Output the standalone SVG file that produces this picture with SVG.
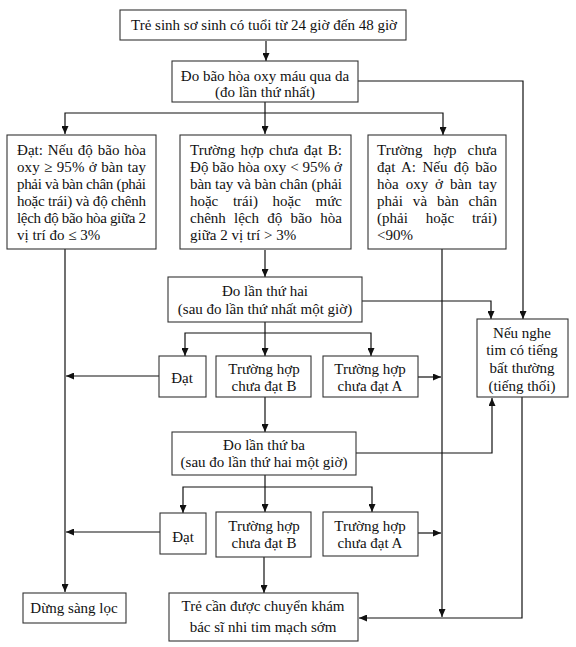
<svg xmlns="http://www.w3.org/2000/svg" width="576" height="647" viewBox="0 0 576 647">
<style>
.box{fill:#fff;stroke:#333;stroke-width:1.1}
.ln{fill:none;stroke:#111;stroke-width:1.2;marker-end:url(#ah)}
text{font-family:"Liberation Serif","Times New Roman",serif;font-size:15px;fill:#111}
.c{text-anchor:middle}
</style>
<defs>
<marker id="ah" markerUnits="userSpaceOnUse" markerWidth="8" markerHeight="7" refX="8" refY="3.5" orient="auto">
<path d="M0,0 L8,3.5 L0,7 z" fill="#111"/>
</marker>
</defs>
<rect width="576" height="647" fill="#fff"/>
<g id="connectors">
<path class="ln" d="M266,41 V61"/>
<path class="ln" d="M358,81 H523 V319"/>
<path class="ln" d="M265,102 V134"/>
<path class="ln" d="M265,113 H65 V134"/>
<path class="ln" d="M265,113 H443 V135"/>
<path class="ln" d="M65,249 V592"/>
<path class="ln" d="M265,250 V277"/>
<path class="ln" d="M362,301 H491 V319"/>
<path class="ln" d="M265,322 V356"/>
<path class="ln" d="M265,333 H185 V356"/>
<path class="ln" d="M265,333 H371 V356"/>
<path class="ln" d="M159,376 H66"/>
<path class="ln" d="M418,377 H441"/>
<path class="ln" d="M442,249 V617"/>
<path class="ln" d="M265,397 V432"/>
<path class="ln" d="M356,453 H492 V398"/>
<path class="ln" d="M522,397 V618 H359"/>
<path class="ln" d="M265,475 V512"/>
<path class="ln" d="M265,487 H183 V513"/>
<path class="ln" d="M265,487 H372 V512"/>
<path class="ln" d="M160,532 H66"/>
<path class="ln" d="M418,533 H441"/>
<path class="ln" d="M264,557 V593"/>
</g>
<g id="n-start">
<rect class="box" x="120" y="10" width="286" height="30"/>
<text class="c" x="264" y="30">Trẻ sinh sơ sinh có tuổi từ 24 giờ đến 48 giờ</text>
</g>
<g id="n-do1">
<rect class="box" x="172" y="61" width="186" height="41"/>
<text class="c" x="265" y="81">Đo bão hòa oxy máu qua da</text>
<text class="c" x="265" y="97">(đo lần thứ nhất)</text>
</g>
<g id="n-dat1">
<rect class="box" x="7" y="135" width="149" height="114"/>
<text x="17" y="155" textLength="129" lengthAdjust="spacing" style="word-spacing:1px">Đạt: Nếu độ bão hòa</text>
<text x="17" y="172" textLength="129" lengthAdjust="spacing" style="word-spacing:0.5px">oxy ≥ 95% ở bàn tay</text>
<text x="17" y="189" textLength="129" lengthAdjust="spacing">phải và bàn chân (phải</text>
<text x="17" y="206" textLength="129" lengthAdjust="spacing">hoặc trái) và độ chênh</text>
<text x="17" y="223" textLength="129" lengthAdjust="spacing">lệch độ bão hòa giữa 2</text>
<text x="17" y="240">vị trí đo ≤ 3%</text>
</g>
<g id="n-b1">
<rect class="box" x="180" y="135" width="171" height="114"/>
<text x="190" y="155" textLength="152" lengthAdjust="spacing" style="word-spacing:1.5px">Trường hợp chưa đạt B:</text>
<text x="190" y="172" textLength="152" lengthAdjust="spacing">Độ bão hòa oxy &lt; 95% ở</text>
<text x="190" y="189" textLength="152" lengthAdjust="spacing">bàn tay và bàn chân (phải</text>
<text x="190" y="206" textLength="152" lengthAdjust="spacing" style="word-spacing:11px">hoặc trái) hoặc mức</text>
<text x="190" y="223" textLength="152" lengthAdjust="spacing" style="word-spacing:4.5px">chênh lệch độ bão hòa</text>
<text x="190" y="240">giữa 2 vị trí  &gt; 3%</text>
</g>
<g id="n-a1">
<rect class="box" x="368" y="135" width="138" height="114"/>
<text x="377" y="155" textLength="120" lengthAdjust="spacing" style="word-spacing:7px">Trường hợp chưa</text>
<text x="377" y="172" textLength="120" lengthAdjust="spacing" style="word-spacing:2.5px">đạt A: Nếu độ bão</text>
<text x="377" y="189" textLength="120" lengthAdjust="spacing" style="word-spacing:3px">hòa oxy ở bàn tay</text>
<text x="377" y="206" textLength="120" lengthAdjust="spacing" style="word-spacing:6px">phải và bàn chân</text>
<text x="377" y="223" textLength="120" lengthAdjust="spacing" style="word-spacing:14px">(phải hoặc trái)</text>
<text x="377" y="240">&lt;90%</text>
</g>
<g id="n-murmur">
<rect class="box" x="477" y="319" width="91" height="78"/>
<text class="c" x="522" y="338">Nếu nghe</text>
<text class="c" x="522" y="355">tim có tiếng</text>
<text class="c" x="522" y="373">bất thường</text>
<text class="c" x="522" y="391">(tiếng thối)</text>
</g>
<g id="n-do2">
<rect class="box" x="168" y="277" width="194" height="45"/>
<text class="c" x="265" y="296">Đo lần thứ hai</text>
<text class="c" x="265" y="314">(sau đo lần thứ nhất một giờ)</text>
</g>
<g id="n-dat2">
<rect class="box" x="159" y="356" width="47" height="41"/>
<text class="c" x="182" y="383">Đạt</text>
</g>
<g id="n-b2">
<rect class="box" x="216" y="356" width="95" height="41"/>
<text class="c" x="264" y="374">Trường hợp</text>
<text class="c" x="264" y="391">chưa đạt B</text>
</g>
<g id="n-a2">
<rect class="box" x="323" y="356" width="95" height="41"/>
<text class="c" x="370" y="374">Trường hợp</text>
<text class="c" x="370" y="391">chưa đạt A</text>
</g>
<g id="n-do3">
<rect class="box" x="172" y="432" width="184" height="43"/>
<text class="c" x="264" y="450">Đo lần thứ ba</text>
<text class="c" x="264" y="467">(sau đo lần thứ hai một giờ)</text>
</g>
<g id="n-dat3">
<rect class="box" x="160" y="513" width="46" height="41"/>
<text class="c" x="183" y="542">Đạt</text>
</g>
<g id="n-b3">
<rect class="box" x="216" y="512" width="95" height="45"/>
<text class="c" x="264" y="531">Trường hợp</text>
<text class="c" x="264" y="548">chưa đạt B</text>
</g>
<g id="n-a3">
<rect class="box" x="323" y="512" width="95" height="44"/>
<text class="c" x="370" y="531">Trường hợp</text>
<text class="c" x="370" y="548">chưa đạt A</text>
</g>
<g id="n-stop">
<rect class="box" x="23" y="593" width="103" height="30"/>
<text class="c" x="74" y="613">Dừng sàng lọc</text>
</g>
<g id="n-refer">
<rect class="box" x="169" y="593" width="189" height="48"/>
<text class="c" x="263" y="611">Trẻ cần được chuyển khám</text>
<text class="c" x="263" y="632">bác sĩ nhi tim mạch sớm</text>
</g>
</svg>
